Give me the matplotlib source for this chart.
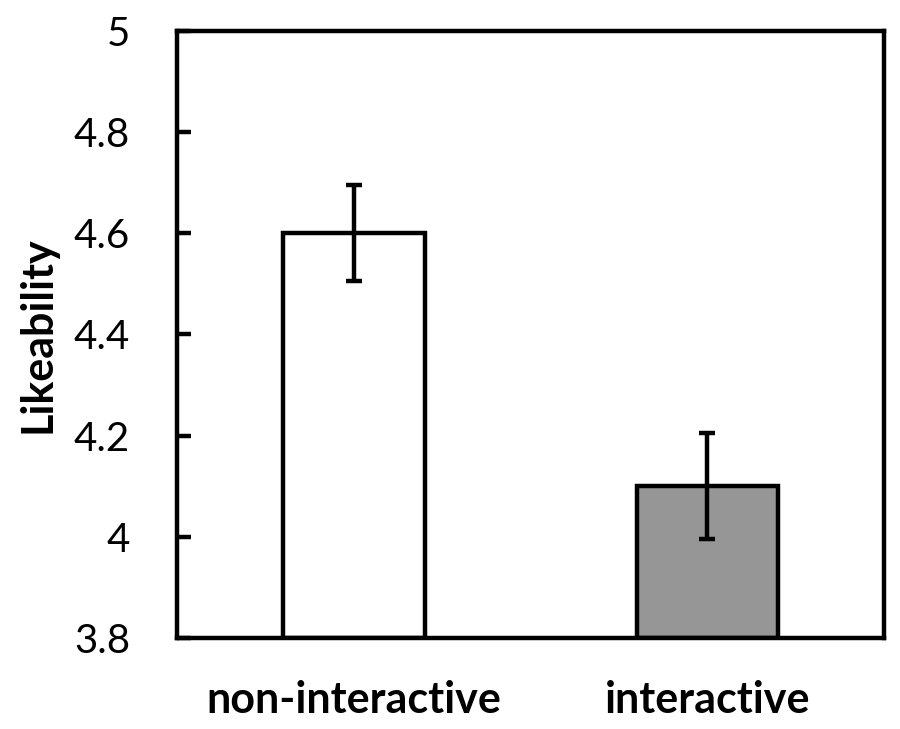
import matplotlib
matplotlib.use("Agg")
import matplotlib.pyplot as plt

categories = ["non-interactive", "interactive"]
means = [4.60, 4.10]
errors = [0.095, 0.105]
colors = ["white", "#969696"]

plt.rcParams["font.family"] = ["Lato", "DejaVu Sans"]

fig = plt.figure(figsize=(9, 7.29), dpi=100)
ax = fig.add_axes([0.197, 0.125, 0.785, 0.8325])

x = range(len(categories))
lw = 3.2
ax.bar(x, [m - 3.8 for m in means], bottom=3.8, width=0.4, color=colors,
       edgecolor="black", linewidth=lw, zorder=2)
ax.errorbar(x, means, yerr=errors, fmt="none", ecolor="black",
            elinewidth=lw, capsize=5.5, capthick=lw, zorder=3)

ax.set_xlim(-0.5, 1.5)
ax.set_ylim(3.8, 5.0)
ax.set_yticks([3.8, 4.0, 4.2, 4.4, 4.6, 4.8, 5.0])
ax.set_yticklabels(["3.8", "4", "4.2", "4.4", "4.6", "4.8", "5"], fontsize=29)
ax.set_xticks(list(x))
ax.set_xticklabels(categories, fontsize=31, fontweight="bold")
ax.tick_params(axis="y", direction="in", length=10, width=lw, pad=34)
ax.tick_params(axis="x", length=0, pad=30)
ax.set_ylabel("Likeability", fontsize=31, fontweight="bold", labelpad=12)

for s in ax.spines.values():
    s.set_linewidth(lw)

fig.savefig("out.png", dpi=100)
